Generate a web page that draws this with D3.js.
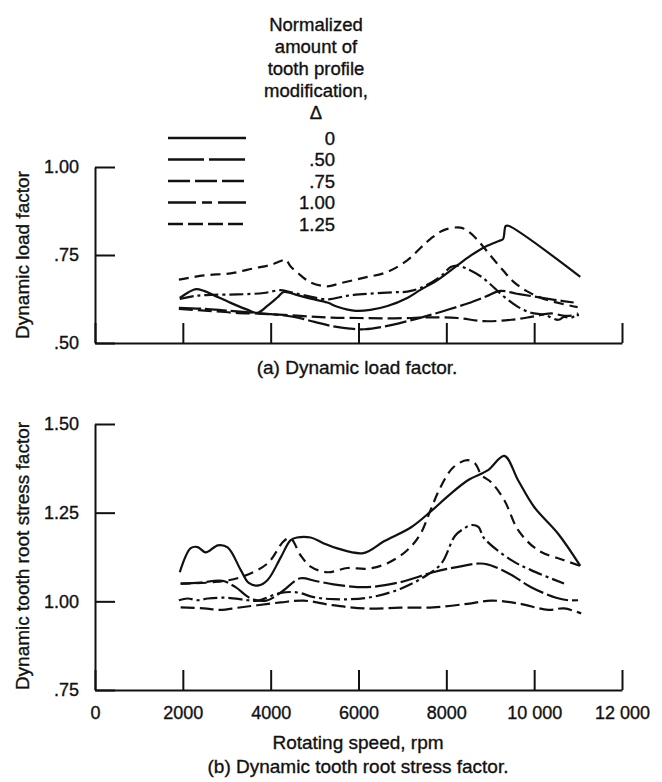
<!DOCTYPE html>
<html>
<head>
<meta charset="utf-8">
<script src="https://cdn.jsdelivr.net/npm/d3@7"></script>
<style>
  html, body { margin: 0; padding: 0; background: #fff; }
  svg { display: block; }
  text { font-family: "Liberation Sans", Arial, Helvetica, sans-serif; fill: #111; stroke: #111; stroke-width: 0.35px; }
</style>
</head>
<body>
<svg id="chart" width="662" height="782"></svg>
<script>
// ---------- data ----------
const seriesNames = ["0", ".50", ".75", "1.00", "1.25"];
const legendTitle = ["Normalized", "amount of", "tooth profile", "modification,", "\u0394"];

const xTickValues = [0, 2000, 4000, 6000, 8000, 10000, 12000];
const xTickLabels = ["0", "2000", "4000", "6000", "8000", "10 000", "12 000"];
const topYTicks = [0.50, 0.75, 1.00];
const topYLabels = [".50", ".75", "1.00"];
const botYTicks = [0.75, 1.00, 1.25, 1.50];
const botYLabels = [".75", "1.00", "1.25", "1.50"];

// (a) Dynamic load factor: [rpm, value]
const load0 = [[1930,0.628],[2140,0.645],[2300,0.653],[2480,0.648],[2700,0.636],[3090,0.614],[3480,0.594],[3700,0.586],[3930,0.606],[4160,0.630],[4300,0.645],[4610,0.636],[4910,0.626],[5290,0.615],[5520,0.603],[5890,0.592],[6270,0.594],[6660,0.605],[7110,0.628],[7410,0.651],[7800,0.679],[8160,0.712],[8480,0.742],[8700,0.760],[8930,0.776],[9200,0.790],[9290,0.795],[9350,0.832],[9410,0.833],[11050,0.688]];
const load50 = [[1910,0.600],[2500,0.597],[3000,0.592],[3700,0.585],[4500,0.575],[5000,0.560],[5400,0.548],[5800,0.541],[6140,0.539],[6600,0.547],[7140,0.563],[7640,0.580],[8050,0.595],[8500,0.613],[8900,0.632],[9230,0.648],[9600,0.640],[10000,0.632],[10500,0.622],[10900,0.615]];
const load75 = [[1910,0.597],[2500,0.592],[3160,0.586],[3800,0.583],[4300,0.580],[4900,0.575],[5400,0.572],[6000,0.571],[6600,0.570],[7200,0.571],[7640,0.573],[8250,0.571],[8860,0.562],[9480,0.566],[9930,0.574],[10390,0.584],[10700,0.577],[11020,0.580]];
const load100 = [[1930,0.625],[2300,0.634],[2700,0.637],[3250,0.638],[3840,0.642],[4230,0.650],[4500,0.643],[4750,0.636],[5290,0.624],[5730,0.634],[6020,0.638],[6790,0.644],[7110,0.646],[7410,0.656],[7860,0.688],[8100,0.716],[8250,0.720],[8450,0.712],[8800,0.688],[9320,0.631],[9640,0.602],[9930,0.586],[10230,0.580],[10550,0.566],[10680,0.574],[10850,0.572],[11000,0.585]];
const load125 = [[1910,0.680],[2480,0.692],[3090,0.698],[3610,0.712],[4000,0.722],[4230,0.733],[4340,0.737],[4450,0.718],[4610,0.700],[4910,0.672],[5290,0.661],[5590,0.670],[6110,0.685],[6660,0.702],[7110,0.735],[7410,0.770],[7640,0.796],[7930,0.820],[8320,0.828],[8520,0.815],[8750,0.787],[8980,0.752],[9300,0.705],[9520,0.675],[9820,0.648],[10300,0.622],[10990,0.602]];

// (b) Dynamic tooth root stress factor: [rpm, value]
const stress0 = [[1930,1.082],[2180,1.150],[2340,1.153],[2520,1.138],[2800,1.158],[3020,1.152],[3320,1.088],[3500,1.052],[3730,1.045],[3930,1.060],[4230,1.124],[4450,1.172],[4600,1.180],[4910,1.180],[5200,1.164],[5500,1.150],[6110,1.136],[6590,1.170],[7200,1.209],[7660,1.255],[8050,1.298],[8500,1.342],[8950,1.370],[9320,1.410],[9640,1.340],[10000,1.266],[10550,1.190],[11050,1.100]];
const stress50 = [[1950,1.050],[2400,1.053],[2900,1.058],[3200,1.040],[3550,1.008],[3900,1.002],[4230,1.025],[4680,1.065],[5000,1.058],[5430,1.048],[6200,1.040],[6950,1.054],[7700,1.082],[8300,1.098],[8860,1.106],[9400,1.080],[9930,1.040],[10500,1.010],[10770,1.003],[11000,1.003]];
const stress75 = [[1950,0.983],[2480,0.980],[2860,0.976],[3250,0.982],[3700,0.989],[4230,0.997],[4750,1.002],[5360,0.990],[6140,0.980],[6950,0.982],[7700,0.983],[8480,0.993],[9020,1.002],[9640,0.994],[10320,0.976],[10680,0.980],[11070,0.966]];
const stress100 = [[1910,1.003],[2110,1.008],[2340,1.003],[2570,1.008],[3020,1.010],[3480,1.003],[3700,1.002],[4230,1.024],[4610,1.025],[4980,1.012],[5430,1.006],[6200,1.010],[6950,1.035],[7570,1.075],[7890,1.107],[8200,1.185],[8400,1.205],[8570,1.215],[8730,1.210],[8860,1.178],[9480,1.116],[9930,1.088],[10680,1.050]];
const stress125 = [[1950,1.050],[2700,1.054],[3320,1.068],[3930,1.107],[4300,1.170],[4450,1.178],[4680,1.130],[4910,1.098],[5290,1.082],[5750,1.094],[6200,1.092],[6650,1.107],[7110,1.144],[7410,1.190],[7640,1.257],[7860,1.320],[8160,1.378],[8480,1.398],[8660,1.388],[8800,1.356],[9020,1.336],[9320,1.285],[9640,1.200],[10090,1.144],[10680,1.116],[11050,1.100]];

const loadSeries = [load0, load50, load75, load100, load125];
const stressSeries = [stress0, stress50, stress75, stress100, stress125];

// ---------- styles ----------
const curveDash = ["none", "22,4", "14,5", "14,4,3,4", "10,6"];
const legendDash = ["none", "36,5", "22,5", "28,6,10,6", "15,5"];
const ink = "#111";

// ---------- layout ----------
const svg = d3.select("#chart");
const x = d3.scaleLinear().domain([0, 12000]).range([95, 622]);
const yTop = d3.scaleLinear().domain([0.5, 1.0]).range([343, 167]);
const yBot = d3.scaleLinear().domain([0.75, 1.5]).range([690, 424]);

function drawPanel(yScale, yTicks, yLabels, series, showXLabels) {
  const g = svg.append("g");
  const yAxis = d3.axisLeft(yScale)
    .tickValues(yTicks)
    .tickFormat((d, i) => yLabels[i])
    .tickSizeInner(-20).tickSizeOuter(0).tickPadding(16);
  const ya = g.append("g").attr("transform", `translate(${x(0)},0)`).call(yAxis);
  const xAxis = d3.axisBottom(x)
    .tickValues(xTickValues)
    .tickFormat((d, i) => showXLabels ? xTickLabels[i] : "")
    .tickSizeInner(-20).tickSizeOuter(0).tickPadding(16);
  const xa = g.append("g").attr("transform", `translate(0,${yScale.range()[0]})`).call(xAxis);
  [ya, xa].forEach(a => {
    a.selectAll("path.domain").attr("stroke", ink).attr("stroke-width", 2);
    a.selectAll(".tick line").attr("stroke", ink).attr("stroke-width", 2);
    a.selectAll(".tick text").attr("fill", ink).style("font-size", "18px")
      .style("font-family", '"Liberation Sans", Arial, sans-serif');
  });
  xa.selectAll(".tick text").attr("dy", "0.71em");
  const line = d3.line().x(d => x(d[0])).y(d => yScale(d[1])).curve(d3.curveCatmullRom.alpha(0.5));
  series.forEach((s, i) => {
    g.append("path").datum(s).attr("d", line)
      .attr("fill", "none").attr("stroke", ink).attr("stroke-width", 2.2)
      .attr("stroke-linejoin", "round")
      .attr("stroke-dasharray", curveDash[i]);
  });
  return g;
}

drawPanel(yTop, topYTicks, topYLabels, loadSeries, false);
drawPanel(yBot, botYTicks, botYLabels, stressSeries, true);

// axis titles
const fs = "19px";
svg.append("text").attr("transform", "translate(29,255) rotate(-90)")
  .attr("text-anchor", "middle").style("font-size", fs).text("Dynamic load factor");
svg.append("text").attr("transform", "translate(29,556) rotate(-90)")
  .attr("text-anchor", "middle").style("font-size", fs).text("Dynamic tooth root stress factor");
svg.append("text").attr("x", 357).attr("y", 374).attr("text-anchor", "middle")
  .style("font-size", fs).text("(a) Dynamic load factor.");
svg.append("text").attr("x", 358).attr("y", 749).attr("text-anchor", "middle")
  .style("font-size", fs).text("Rotating speed, rpm");
svg.append("text").attr("x", 358).attr("y", 773).attr("text-anchor", "middle")
  .style("font-size", fs).text("(b) Dynamic tooth root stress factor.");

// legend
const lg = svg.append("g");
legendTitle.forEach((t, i) => {
  lg.append("text").attr("x", 316).attr("y", 31 + i * 22).attr("text-anchor", "middle")
    .style("font-size", "18.5px").text(t);
});
seriesNames.forEach((n, i) => {
  const yy = 138 + i * 21.5;
  lg.append("line").attr("x1", 168).attr("x2", 246).attr("y1", yy).attr("y2", yy)
    .attr("stroke", ink).attr("stroke-width", 2.4).attr("stroke-dasharray", legendDash[i]);
  lg.append("text").attr("x", 335).attr("y", yy + 6.5).attr("text-anchor", "end")
    .style("font-size", "18.5px").text(n);
});
</script>
</body>
</html>
